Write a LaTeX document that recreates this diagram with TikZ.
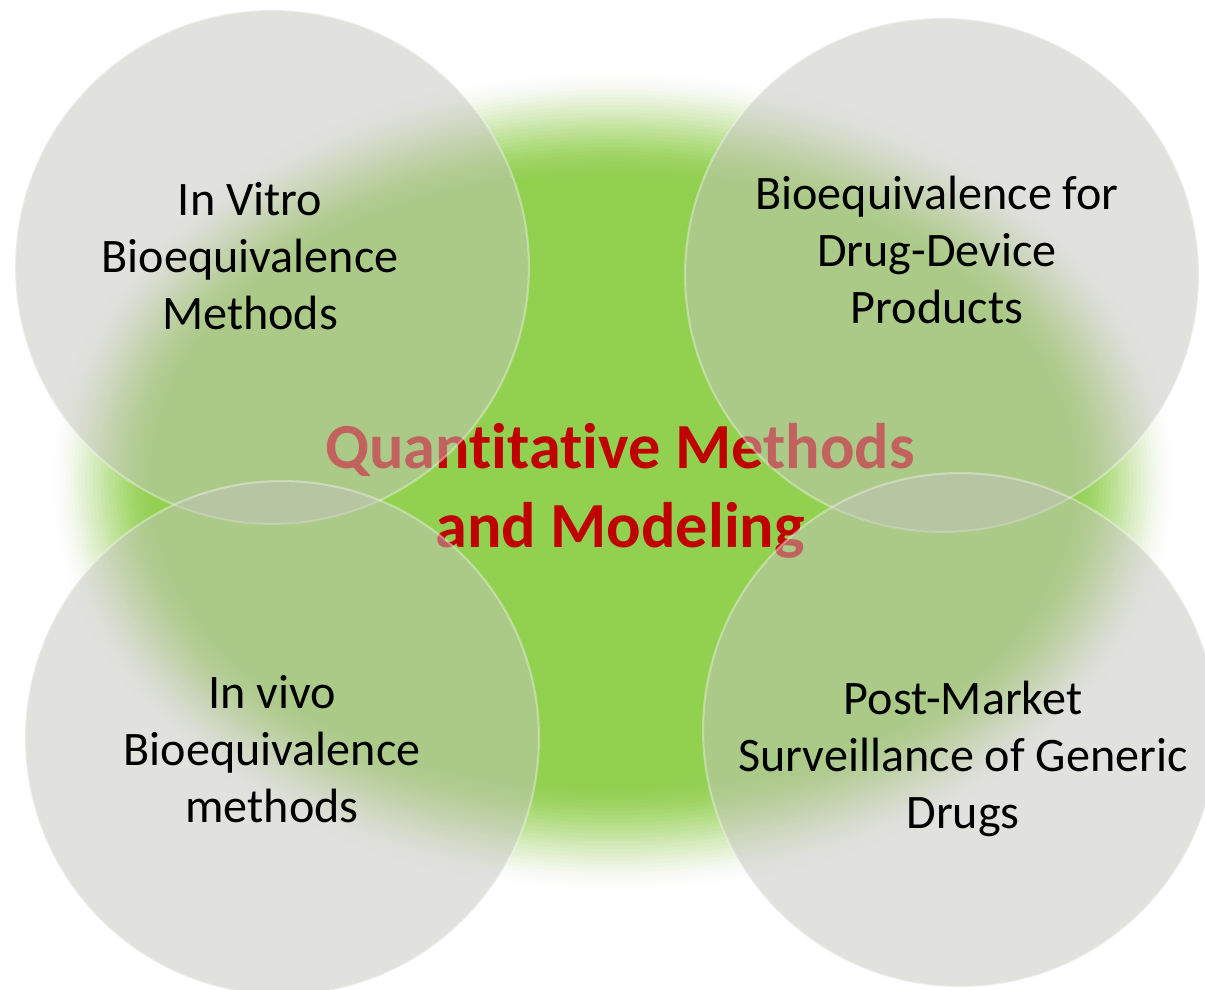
\documentclass[tikz,border=0pt]{standalone}
\usepackage{fontspec}
\setmainfont[Ligatures=NoCommon, RawFeature=-calt]{Carlito}
\definecolor{leaf}{HTML}{92D050}
\definecolor{deepred}{HTML}{C00000}
\definecolor{mist}{RGB}{196,196,190}
\tikzset{
  bubble/.style={circle, minimum size=10.28cm, inner sep=0pt, fill=mist,
    fill opacity=0.5, draw=white, draw opacity=0.35, line width=1.2pt},
  topic/.style={align=center, inner sep=0pt, font=\fontsize{27.4}{32.5}\selectfont},
  hub/.style={align=center, inner sep=0pt, text=deepred,
    font=\bfseries\fontsize{36.6}{44.8}\selectfont}
}

\begin{document}
\begin{tikzpicture}[x=0.02cm, y=-0.02cm]
  \useasboundingbox (0,0) rectangle (1205,990);
  \fill[white] (0,0) rectangle (1205,990);
  % soft green patch, built up from thin layers (smoothstep edge)
  \foreach \k in {1,...,30} {
    \pgfmathsetmacro{\ua}{(\k-1)/30}
    \pgfmathsetmacro{\ub}{\k/30}
    \pgfmathsetmacro{\ta}{3*\ua*\ua-2*\ua*\ua*\ua}
    \pgfmathsetmacro{\tb}{3*\ub*\ub-2*\ub*\ub*\ub}
    \pgfmathsetmacro{\op}{min(1,(\tb-\ta)/(1-\ta))}
    \pgfmathsetmacro{\d}{3.8*(\k-1)}
    \fill[leaf, opacity=\op] (613,481) ellipse ({562-\d} and {410-\d});
  }
  \node[hub] (hub) at (620,491) {Quantitative Methods\\and Modeling};
  % the four circles
  \node[bubble] (vitro) at (272,267) {};
  \node[bubble] (device) at (942,275) {};
  \node[bubble] (vivo) at (282,738) {};
  \node[bubble] (market) at (960,730) {};
  \node[topic] (vitrotext) at (250,256) {In Vitro\\Bioequivalence\\Methods};
  \node[topic] (devicetext) at (937,250) {Bioequivalence for\\Drug-Device\\Products};
  \node[topic] (vivotext) at (272,749) {In vivo\\Bioequivalence\\methods};
  \node[topic] (markettext) at (963,759) {Post-Market\\Surveillance of Generic\\Drugs};
\end{tikzpicture}
\end{document}
